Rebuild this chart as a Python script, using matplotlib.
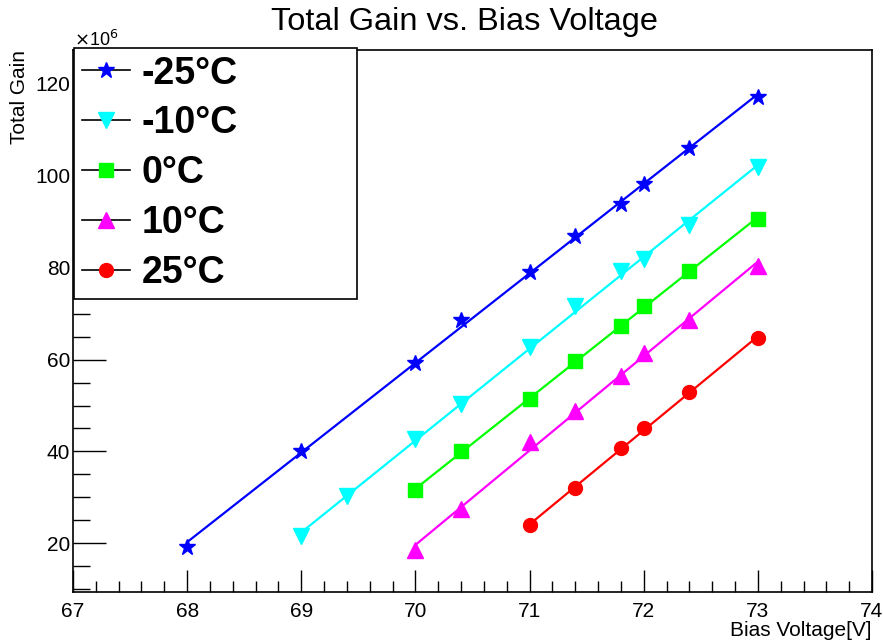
import numpy as np
import matplotlib
matplotlib.use("Agg")
import matplotlib.pyplot as plt
from matplotlib.lines import Line2D
from matplotlib.ticker import MultipleLocator

plt.rcParams['font.family'] = ['Liberation Sans', 'DejaVu Sans']

# bias voltage [V] and total gain [x1e6] for each temperature
v_m25 = [68, 69, 70, 70.4, 71, 71.4, 71.8, 72, 72.4, 73]
g_m25 = [19.1, 40.2, 59.3, 68.6, 79.0, 86.8, 93.8, 98.3, 106.0, 117.2]

v_m10 = [69, 69.4, 70, 70.4, 71, 71.4, 71.8, 72, 72.4, 73]
g_m10 = [21.5, 30.2, 42.8, 50.4, 62.8, 71.6, 79.2, 82.0, 89.2, 102.0]

v_0 = [70, 70.4, 71, 71.4, 71.8, 72, 72.4, 73]
g_0 = [31.5, 40.0, 51.5, 59.6, 67.3, 71.7, 79.3, 90.6]

v_10 = [70, 70.4, 71, 71.4, 71.8, 72, 72.4, 73]
g_10 = [18.5, 27.4, 42.0, 48.9, 56.5, 61.5, 68.7, 80.4]

v_25 = [71, 71.4, 71.8, 72, 72.4, 73]
g_25 = [23.9, 32.0, 40.7, 45.2, 53.0, 64.6]

labels = ['-25°C', '-10°C', '0°C', '10°C', '25°C']
colors = ['#0000ff', '#00ffff', '#00ff00', '#ff00ff', '#ff0000']
markers = ['*', 'v', 's', '^', 'o']
msizes = [12, 12, 10, 11, 10]

series = [(v_m25, g_m25), (v_m10, g_m10), (v_0, g_0), (v_10, g_10), (v_25, g_25)]

fig = plt.figure(figsize=(8.83, 6.43), dpi=100)
ax = fig.add_axes([73/883, 51/643, 799/883, 542/643])

for (v, g), c, m, ms in zip(series, colors, markers, msizes):
    v = np.array(v)
    g = np.array(g)
    # linear fit through the points, like the original
    p = np.polyfit(v, g, 1)
    xx = np.linspace(v.min(), v.max(), 50)
    ax.plot(xx, np.polyval(p, xx), color=c, lw=1.6, zorder=2)
    ax.plot(v, g, ls='none', marker=m, color=c, ms=ms, mec=c, zorder=3)

ax.set_xlim(67, 74)
ax.set_ylim(9.4, 127.4)
ax.xaxis.set_major_locator(MultipleLocator(1))
ax.xaxis.set_minor_locator(MultipleLocator(0.2))
ax.yaxis.set_major_locator(MultipleLocator(20))
ax.yaxis.set_minor_locator(MultipleLocator(5))
ax.tick_params(which='both', direction='in', top=False, right=False,
               labelsize=15, colors='black', width=1)
ax.tick_params(axis='x', which='major', length=16, pad=7)
ax.tick_params(axis='x', which='minor', length=8)
ax.tick_params(axis='y', which='major', length=24, pad=2)
ax.tick_params(axis='y', which='minor', length=12)
for s in ax.spines.values():
    s.set_linewidth(1.2)
    s.set_color('black')

fig.text(0.526, 1 - 22/643, 'Total Gain vs. Bias Voltage', ha='center', va='center', fontsize=23.4)
fig.text(74/883, 1 - 40/643, r'$\times$10$^{6}$', ha='left', va='center', fontsize=13)
fig.text(20/883, 1 - 50/643, 'Total Gain', rotation=90, ha='center', va='top', fontsize=15)
fig.text(872/883, 1 - 630/643, 'Bias Voltage[V]', ha='right', va='center', fontsize=15)

handles = [Line2D([], [], color='black', lw=1.2, marker=m, ms=ms, mfc=c, mec=c)
           for c, m, ms in zip(colors, markers, msizes)]
leg = fig.legend(handles, labels, loc='upper left',
                 bbox_to_anchor=(74/883, 1 - 291/643, (357 - 74)/883, (291 - 48)/643),
                 mode='expand', fancybox=False, framealpha=1, edgecolor='black',
                 prop={'size': 27, 'weight': 'bold'}, handlelength=1.3,
                 handletextpad=0.3, labelspacing=0.37, borderpad=0.2, borderaxespad=0)
leg.get_frame().set_linewidth(1.2)

fig.savefig('out.png', dpi=100)
